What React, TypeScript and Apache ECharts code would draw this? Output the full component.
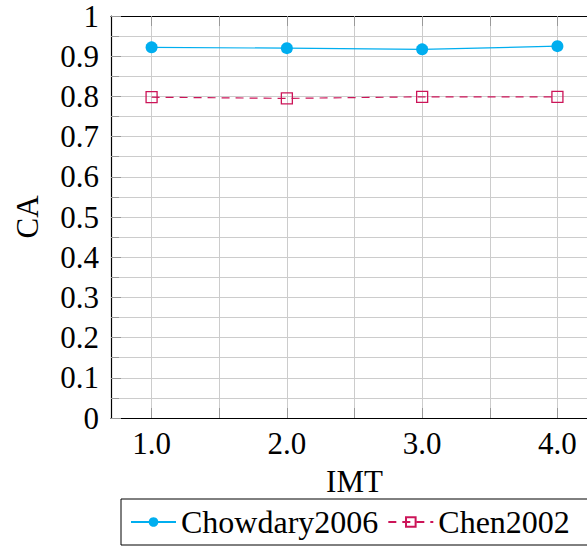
import React, { useEffect, useRef } from "react";
import * as echarts from "echarts";

const imtValues = [1.0, 2.0, 3.0, 4.0];
const chowdary2006 = [0.922, 0.92, 0.917, 0.925];
const chen2002 = [0.798, 0.795, 0.799, 0.799];
const xTickValues = [1.0, 1.5, 2.0, 2.5, 3.0, 3.5, 4.0];
const xLabelValues = [1.0, 2.0, 3.0, 4.0];

const FONT = '"Liberation Serif", "DejaVu Serif", serif';
const BLUE = "#00AEEF";
const CRIMSON = "#CC1458";

export default function App() {
  const ref = useRef<HTMLDivElement>(null);

  useEffect(() => {
    if (!ref.current) return;
    const chart = echarts.init(ref.current, undefined, { renderer: "svg" });

    const tickStyle = { show: true, inside: true, length: 10, lineStyle: { color: "#999", width: 1 } };

    chart.setOption({
      animation: false,
      textStyle: { fontFamily: FONT },
      grid: { left: 111, right: 0, top: 16, bottom: 130, containLabel: false },
      xAxis: [
        {
          type: "value",
          min: 0.7,
          max: 4.3,
          position: "bottom",
          name: "IMT",
          nameLocation: "middle",
          nameGap: 48,
          nameTextStyle: { fontFamily: FONT, fontSize: 31, color: "#000" },
          axisLine: { show: true, onZero: false, lineStyle: { color: "#000", width: 1.2 } },
          axisTick: { ...tickStyle, customValues: xTickValues },
          axisLabel: {
            customValues: xLabelValues,
            margin: 10,
            fontFamily: FONT,
            fontSize: 31,
            color: "#000",
            formatter: (v: number) => v.toFixed(1),
          },
          splitLine: { show: true, lineStyle: { color: "#CCCCCC", width: 1 } },
        },
        {
          type: "value",
          min: 0.7,
          max: 4.3,
          position: "top",
          axisLine: { show: true, onZero: false, lineStyle: { color: "#000", width: 1.2 } },
          axisTick: { ...tickStyle, customValues: xTickValues },
          axisLabel: { show: false },
          splitLine: { show: false },
        },
      ],
      yAxis: [
        {
          type: "value",
          min: 0,
          max: 1,
          interval: 0.1,
          name: "CA",
          nameLocation: "middle",
          nameGap: 68,
          nameTextStyle: { fontFamily: FONT, fontSize: 31, color: "#000" },
          axisLine: { show: true, onZero: false, lineStyle: { color: "#000", width: 1.2 } },
          axisTick: tickStyle,
          minorTick: { show: true, splitNumber: 2, length: 8, lineStyle: { color: "#999", width: 1 } },
          minorSplitLine: { show: true, lineStyle: { color: "#CCCCCC", width: 1 } },
          splitLine: { show: true, lineStyle: { color: "#CCCCCC", width: 1 } },
          axisLabel: {
            margin: 12,
            fontFamily: FONT,
            fontSize: 31,
            color: "#000",
            formatter: (v: number) => String(Number(v.toFixed(2))),
          },
        },
      ],
      legend: {
        left: 121,
        top: 499,
        orient: "horizontal",
        itemWidth: 45,
        itemHeight: 12,
        itemGap: 9,
        padding: [7, 18, 7, 9],
        borderColor: "#000",
        borderWidth: 1,
        textStyle: { fontFamily: FONT, fontSize: 32, color: "#000" },
        data: ["Chowdary2006", "Chen2002"],
      },
      series: [
        {
          name: "Chowdary2006",
          type: "line",
          data: imtValues.map((x, i) => [x, chowdary2006[i]]),
          symbol: "circle",
          symbolSize: 12,
          lineStyle: { color: BLUE, width: 1.2 },
          itemStyle: { color: BLUE },
        },
        {
          name: "Chen2002",
          type: "line",
          data: imtValues.map((x, i) => [x, chen2002[i]]),
          symbol: "rect",
          symbolSize: 11,
          lineStyle: { color: CRIMSON, width: 1.2, type: [8, 6] },
          itemStyle: { color: "rgba(0,0,0,0)", borderColor: CRIMSON, borderWidth: 1.3 },
        },
      ],
    });

    return () => chart.dispose();
  }, []);

  // The plot runs a little past the right edge of the frame and is cut off there.
  return (
    <div style={{ position: "fixed", left: 0, top: 0, width: 587, height: 548, overflow: "hidden", background: "#fff" }}>
      <div ref={ref} style={{ width: 598, height: 548 }} />
    </div>
  );
}
